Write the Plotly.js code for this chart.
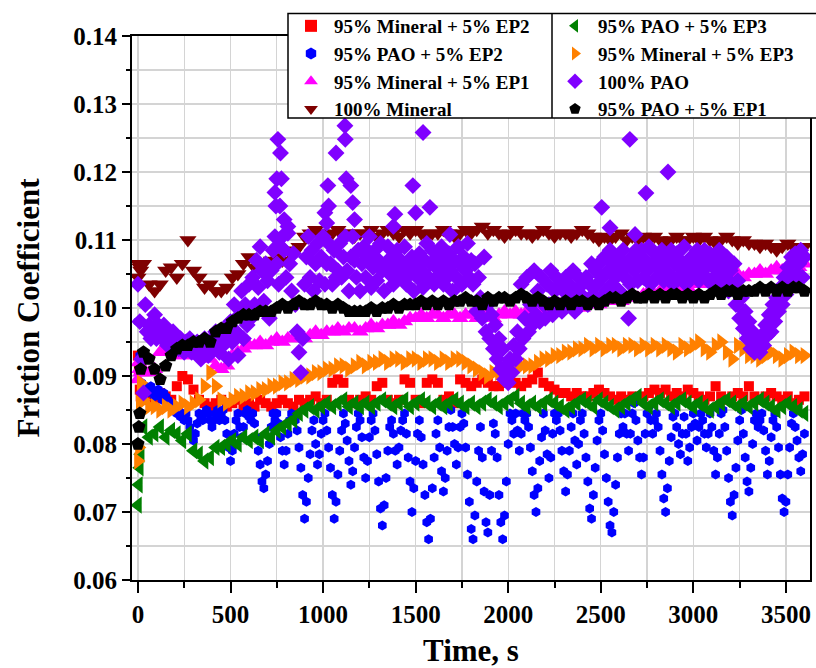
<!DOCTYPE html>
<html>
<head>
<meta charset="utf-8">
<script src="https://cdn.plot.ly/plotly-3.0.1.min.js"></script>
<style>html,body{margin:0;padding:0;background:#fff;}#chart{width:816px;height:668px;}</style>
</head>
<body>
<div id="chart"></div>
<script>
// Time axes (s)
const timeA = [0,5,10,15,
30,60,90,120,150,180,210,240,270,300,
330,360,390,420,450,480,510,540,570,600,
630,660,690,720,750,780,810,840,870,900,
930,960,990,1020,1050,1080,1110,1140,1170,1200,
1230,1260,1290,1320,1350,1380,1410,1440,1470,1500,
1530,1560,1590,1620,1650,1680,1710,1740,1770,1800,
1830,1860,1890,1920,1950,1980,2010,2040,2070,2100,
2130,2160,2190,2220,2250,2280,2310,2340,2370,2400,
2430,2460,2490,2520,2550,2580,2610,2640,2670,2700,
2730,2760,2790,2820,2850,2880,2910,2940,2970,3000,
3030,3060,3090,3120,3150,3180,3210,3240,3270,3300,
3330,3360,3390,3420,3450,3480,3510,3540,3570,3600];

const timeC = [0,
10,20,30,40,50,60,70,80,90,100,110,120,130,140,150,160,170,180,190,200,210,220,230,240,250,260,270,280,290,300,
310,320,330,340,350,360,370,380,390,400,410,420,430,440,450,460,470,480,490,500,510,520,530,540,550,560,570,580,590,600,
610,620,630,640,650,660,670,680,690,700,710,720,730,740,750,760,770,780,790,800,810,820,830,840,850,860,870,880,890,900,
910,920,930,940,950,960,970,980,990,1000,1010,1020,1030,1040,1050,1060,1070,1080,1090,1100,1110,1120,1130,1140,1150,1160,1170,1180,1190,1200,
1210,1220,1230,1240,1250,1260,1270,1280,1290,1300,1310,1320,1330,1340,1350,1360,1370,1380,1390,1400,1410,1420,1430,1440,1450,1460,1470,1480,1490,1500,
1510,1520,1530,1540,1550,1560,1570,1580,1590,1600,1610,1620,1630,1640,1650,1660,1670,1680,1690,1700,1710,1720,1730,1740,1750,1760,1770,1780,1790,1800,
1810,1820,1830,1840,1850,1860,1870,1880,1890,1900,1910,1920,1930,1940,1950,1960,1970,1980,1990,2000,2010,2020,2030,2040,2050,2060,2070,2080,2090,2100,
2110,2120,2130,2140,2150,2160,2170,2180,2190,2200,2210,2220,2230,2240,2250,2260,2270,2280,2290,2300,2310,2320,2330,2340,2350,2360,2370,2380,2390,2400,
2410,2420,2430,2440,2450,2460,2470,2480,2490,2500,2510,2520,2530,2540,2550,2560,2570,2580,2590,2600,2610,2620,2630,2640,2650,2660,2670,2680,2690,2700,
2710,2720,2730,2740,2750,2760,2770,2780,2790,2800,2810,2820,2830,2840,2850,2860,2870,2880,2890,2900,2910,2920,2930,2940,2950,2960,2970,2980,2990,3000,
3010,3020,3030,3040,3050,3060,3070,3080,3090,3100,3110,3120,3130,3140,3150,3160,3170,3180,3190,3200,3210,3220,3230,3240,3250,3260,3270,3280,3290,3300,
3310,3320,3330,3340,3350,3360,3370,3380,3390,3400,3410,3420,3430,3440,3450,3460,3470,3480,3490,3500,3510,3520,3530,3540,3550,3560,3570,3580,3590,3600];

// 95% Mineral + 5% EP2 (timeA)
const mineralEP2 = [0.093,0.091,0.088,0.087,
0.0865,0.087,0.0865,0.0875,0.087,0.0865,0.0885,0.090,0.0895,0.088,
0.0865,0.086,0.0855,0.086,0.0865,0.0855,0.086,0.0865,0.0855,0.086,
0.0855,0.0865,0.086,0.0855,0.086,0.0865,0.086,0.0855,0.0865,0.086,
0.0865,0.087,0.086,0.0865,0.089,0.0895,0.089,0.0865,0.086,0.0865,
0.087,0.0865,0.0885,0.089,0.0865,0.086,0.0865,0.0895,0.089,0.0865,
0.086,0.089,0.0895,0.089,0.0865,0.087,0.086,0.0895,0.089,0.0885,
0.089,0.0895,0.089,0.0885,0.0885,0.089,0.0895,0.089,0.0885,0.089,
0.0895,0.0905,0.089,0.0885,0.088,0.0875,0.0875,0.087,0.0875,0.087,
0.087,0.0875,0.088,0.0875,0.087,0.0865,0.087,0.0865,0.087,0.0865,
0.087,0.0875,0.088,0.0875,0.088,0.087,0.0875,0.087,0.088,0.0875,
0.087,0.0865,0.087,0.0885,0.087,0.0865,0.087,0.0875,0.087,0.0885,
0.087,0.0865,0.087,0.0875,0.087,0.0865,0.087,0.086,0.0865,0.087];

// 95% PAO + 5% EP2 (timeC)
const paoEP2 = [0.098,
0.093,0.089,0.088,0.0885,0.0875,0.088,0.0885,0.0875,0.087,0.0875,0.088,0.087,0.0865,0.0875,0.087,0.0865,0.0855,0.086,0.085,0.0855,0.0845,0.085,0.084,0.0845,0.0835,0.0845,0.0835,0.0825,0.0815,0.0805,
0.0815,0.083,0.0845,0.084,0.0835,0.0845,0.085,0.0845,0.0835,0.0825,0.0835,0.0845,0.085,0.0835,0.0845,0.085,0.0835,0.0815,0.0795,0.0775,0.079,0.0815,0.0835,0.0845,0.0825,0.081,0.0825,0.0845,0.085,0.084,
0.0835,0.0845,0.083,0.081,0.079,0.077,0.0745,0.0735,0.0755,0.0775,0.080,0.0825,0.0845,0.0835,0.0845,0.083,0.081,0.079,0.077,0.079,0.0815,0.0835,0.0845,0.084,0.0835,0.082,0.0795,0.0765,0.0725,0.069,
0.0715,0.075,0.0785,0.082,0.0835,0.080,0.077,0.0785,0.0815,0.0835,0.0845,0.082,0.0795,0.0765,0.0725,0.069,0.0715,0.0755,0.079,0.082,0.0845,0.083,0.0805,0.0775,0.074,0.076,0.0795,0.0825,0.0845,0.0835,
0.081,0.078,0.075,0.0775,0.081,0.0835,0.0845,0.082,0.0785,0.0745,0.0705,0.068,0.071,0.075,0.079,0.0825,0.0835,0.0815,0.079,0.077,0.0795,0.082,0.0835,0.0845,0.0815,0.078,0.0745,0.070,0.0735,0.0775,
0.0815,0.0835,0.081,0.077,0.0725,0.0685,0.066,0.069,0.0735,0.078,0.0815,0.0835,0.0795,0.076,0.073,0.075,0.079,0.0825,0.085,0.0825,0.080,0.077,0.0795,0.0825,0.0845,0.083,0.0795,0.0755,0.0715,0.0675,
0.066,0.0695,0.0745,0.079,0.0825,0.078,0.073,0.0685,0.067,0.0725,0.079,0.083,0.0815,0.078,0.0725,0.0685,0.066,0.0695,0.0745,0.080,0.0845,0.0835,0.0815,0.0845,0.082,0.079,0.0815,0.0845,0.0835,0.0845,
0.0825,0.0795,0.076,0.0725,0.070,0.0735,0.0775,0.081,0.0845,0.082,0.0785,0.075,0.078,0.0815,0.0845,0.0835,0.0845,0.082,0.079,0.076,0.073,0.0755,0.079,0.0825,0.0845,0.0805,0.077,0.080,0.0835,0.0845,
0.0815,0.078,0.0745,0.0705,0.069,0.0725,0.0765,0.0805,0.0835,0.0845,0.082,0.0785,0.075,0.0715,0.068,0.067,0.070,0.074,0.078,0.0815,0.0845,0.0825,0.0845,0.0815,0.079,0.0815,0.0845,0.086,0.0835,0.0805,
0.078,0.0755,0.078,0.0815,0.0845,0.0855,0.0835,0.0815,0.0835,0.0845,0.0825,0.079,0.0755,0.072,0.070,0.0735,0.0775,0.081,0.084,0.0845,0.0825,0.080,0.0785,0.0815,0.084,0.0815,0.0775,0.0795,0.0825,0.0845,
0.083,0.0805,0.0825,0.0845,0.0835,0.0815,0.0795,0.0815,0.0845,0.0825,0.079,0.0755,0.078,0.0815,0.0845,0.085,0.0825,0.079,0.075,0.0715,0.0695,0.0725,0.0765,0.0805,0.0835,0.085,0.0815,0.078,0.0745,0.073,
0.0765,0.080,0.0835,0.0845,0.0825,0.0835,0.0845,0.082,0.079,0.0755,0.0775,0.081,0.0835,0.0845,0.0825,0.0795,0.0755,0.072,0.070,0.0715,0.0755,0.0795,0.083,0.0845,0.0825,0.0805,0.078,0.076,0.0785,0.0815];

// 95% Mineral + 5% EP1 (timeA)
const mineralEP1 = [0.0895,0.092,0.091,0.0905,
0.0905,0.0905,0.091,0.0935,0.094,0.0935,0.093,0.093,0.0935,0.093,
0.0935,0.093,0.0925,0.0915,0.091,0.0915,0.093,0.0935,0.094,0.0945,
0.0945,0.095,0.0945,0.095,0.0955,0.095,0.0955,0.0955,0.096,0.0955,
0.096,0.0965,0.096,0.0965,0.0965,0.097,0.0965,0.097,0.097,0.0965,
0.097,0.0975,0.097,0.0975,0.0975,0.098,0.0975,0.098,0.0985,0.0985,
0.099,0.0985,0.099,0.099,0.0985,0.099,0.099,0.0985,0.099,0.099,
0.0985,0.099,0.099,0.0985,0.099,0.0995,0.099,0.0995,0.099,0.0995,
0.0995,0.100,0.0995,0.100,0.100,0.1005,0.100,0.1005,0.1005,0.100,
0.1005,0.101,0.1005,0.101,0.101,0.1015,0.101,0.1015,0.102,0.1015,
0.102,0.1025,0.102,0.1025,0.1025,0.103,0.1025,0.103,0.103,0.1035,
0.1035,0.104,0.1035,0.104,0.1045,0.104,0.1045,0.105,0.1045,0.105,
0.105,0.1055,0.105,0.1055,0.106,0.1055,0.106,0.1065,0.106,0.1065];

// 100% Mineral (timeA)
const mineral100 = [0.1045,0.1065,0.106,0.1055,
0.1065,0.1035,0.1025,0.1035,0.1055,0.106,0.1045,0.1065,0.110,0.1055,
0.1045,0.103,0.1035,0.1025,0.1025,0.103,0.1045,0.105,0.1065,0.1075,
0.106,0.1065,0.106,0.107,0.1075,0.107,0.1085,0.108,0.109,0.1105,
0.111,0.1115,0.111,0.1105,0.111,0.1115,0.111,0.111,0.1105,0.111,
0.111,0.1115,0.1105,0.111,0.1115,0.111,0.1105,0.1115,0.111,0.1115,
0.111,0.1105,0.111,0.111,0.1115,0.111,0.1105,0.111,0.1115,0.111,
0.1115,0.112,0.111,0.1115,0.111,0.1105,0.111,0.1115,0.111,0.111,
0.1105,0.111,0.1115,0.111,0.1105,0.111,0.111,0.1105,0.111,0.1115,
0.111,0.1105,0.110,0.1105,0.110,0.1105,0.111,0.110,0.1105,0.110,
0.1105,0.110,0.1105,0.110,0.1095,0.110,0.1105,0.110,0.110,0.1105,
0.110,0.1105,0.110,0.1095,0.110,0.1105,0.110,0.1095,0.110,0.1095,
0.1095,0.109,0.1095,0.109,0.1085,0.109,0.1095,0.109,0.1085,0.109];

// 95% PAO + 5% EP3 (timeA)
const paoEP3 = [0.071,0.074,0.0765,0.0785,
0.0825,0.081,0.0815,0.0825,0.081,0.082,0.0815,0.0805,0.0815,0.079,
0.0785,0.0775,0.078,0.0795,0.0795,0.080,0.0805,0.080,0.081,0.0805,
0.081,0.0805,0.0815,0.081,0.082,0.0825,0.083,0.0835,0.0845,0.085,
0.0855,0.085,0.0855,0.086,0.0855,0.086,0.0865,0.0855,0.086,0.0855,
0.086,0.0855,0.086,0.0865,0.086,0.0855,0.086,0.0865,0.0855,0.086,
0.0865,0.086,0.0855,0.086,0.0855,0.086,0.0865,0.086,0.0855,0.086,
0.0855,0.086,0.0865,0.086,0.0855,0.086,0.0865,0.087,0.086,0.0855,
0.086,0.0855,0.086,0.0865,0.086,0.0855,0.085,0.0855,0.086,0.0865,
0.086,0.0855,0.0865,0.086,0.0855,0.085,0.0855,0.086,0.0865,0.087,
0.086,0.0855,0.086,0.0865,0.086,0.0855,0.086,0.0865,0.086,0.0855,
0.086,0.0855,0.085,0.0855,0.086,0.0865,0.086,0.0855,0.086,0.0855,
0.086,0.0865,0.086,0.0855,0.085,0.0855,0.086,0.0855,0.085,0.0845];

// 95% Mineral + 5% EP3 (timeA)
const mineralEP3 = [0.0775,0.0795,0.086,0.089,
0.0865,0.0855,0.0855,0.085,0.0855,0.085,0.0855,0.086,0.0855,0.086,
0.0865,0.0885,0.0905,0.0885,0.0865,0.086,0.0865,0.087,0.087,0.0875,
0.0875,0.088,0.088,0.0885,0.0885,0.089,0.089,0.0895,0.0895,0.090,
0.090,0.0905,0.0905,0.091,0.091,0.0915,0.0915,0.091,0.0915,0.092,
0.0915,0.092,0.092,0.0925,0.092,0.0925,0.0925,0.092,0.0925,0.0925,
0.092,0.0925,0.0925,0.092,0.0925,0.092,0.0925,0.0925,0.092,0.0915,
0.091,0.0905,0.090,0.0905,0.0905,0.0905,0.091,0.091,0.0915,0.0915,
0.0915,0.092,0.0925,0.0925,0.093,0.093,0.0935,0.0935,0.094,0.094,
0.0945,0.094,0.0945,0.094,0.0945,0.0945,0.094,0.0945,0.0945,0.094,
0.0945,0.094,0.0945,0.094,0.0945,0.094,0.0935,0.0945,0.094,0.0945,
0.095,0.094,0.0935,0.0945,0.095,0.0935,0.0925,0.0945,0.094,0.093,
0.093,0.0925,0.093,0.0935,0.093,0.0925,0.093,0.0935,0.093,0.093];

// 100% PAO (timeC) plus scattered outliers
const pao100 = [0.1035,
0.098,0.0925,0.0875,0.1005,0.0965,0.0975,0.0955,0.0965,0.099,0.0955,0.0975,0.0965,0.0955,0.0975,0.096,0.0945,0.0965,0.095,0.0965,0.0945,0.0955,0.094,0.0955,0.0945,0.0935,0.095,0.094,0.0955,0.0935,0.0945,
0.0935,0.095,0.094,0.0925,0.0945,0.0955,0.094,0.093,0.0945,0.0955,0.094,0.0965,0.095,0.0935,0.096,0.0945,0.097,0.0955,0.0925,0.098,0.095,0.1005,0.0965,0.093,0.099,0.1025,0.0955,0.1005,0.0975,0.1035,
0.0985,0.1045,0.1005,0.107,0.103,0.109,0.1055,0.101,0.1065,0.104,0.0985,0.1055,0.1085,0.1105,0.1065,0.1035,0.109,0.1105,0.1085,0.1045,0.111,0.1065,0.1025,0.108,0.1005,0.0965,0.0935,0.0905,0.0955,0.1035,
0.1075,0.1105,0.1045,0.1085,0.1025,0.1065,0.1095,0.104,0.1075,0.1105,0.1035,0.1065,0.1095,0.1065,0.1035,0.1085,0.1045,0.1055,0.1095,0.1045,0.1075,0.1105,0.1055,0.1025,0.1075,0.1105,0.107,0.1045,0.1085,0.1025,
0.1065,0.109,0.1045,0.1075,0.1105,0.103,0.106,0.1085,0.104,0.107,0.1095,0.1055,0.1025,0.1065,0.109,0.105,0.1075,0.1035,0.106,0.1085,0.1045,0.107,0.1055,0.109,0.1035,0.1065,0.105,0.1075,0.1025,0.106,
0.1045,0.108,0.1055,0.103,0.107,0.1095,0.1045,0.1065,0.1085,0.1035,0.106,0.1075,0.105,0.109,0.1035,0.1065,0.1045,0.108,0.1055,0.1025,0.107,0.1045,0.109,0.1065,0.1035,0.1075,0.1055,0.1095,0.1045,0.107,
0.1035,0.1065,0.0995,0.1045,0.1015,0.0985,0.1075,0.0965,0.1005,0.0955,0.099,0.094,0.0975,0.0925,0.0955,0.091,0.094,0.0895,0.0915,0.089,0.0925,0.0905,0.0945,0.0925,0.0965,0.094,0.1035,0.0955,0.0985,0.1045,
0.0965,0.1005,0.0975,0.1055,0.099,0.1025,0.098,0.1045,0.1005,0.0985,0.1035,0.1005,0.1055,0.099,0.1025,0.1045,0.1005,0.1035,0.0995,0.1025,0.1045,0.1005,0.1035,0.1015,0.1055,0.0995,0.1025,0.1045,0.1005,0.1035,
0.1015,0.1045,0.1005,0.1035,0.1065,0.102,0.1055,0.1035,0.1065,0.1015,0.1045,0.1075,0.1025,0.1055,0.1085,0.1035,0.1065,0.1045,0.1075,0.1025,0.1055,0.1085,0.1045,0.1065,0.0985,0.1035,0.1075,0.1055,0.1085,0.104,
0.1065,0.1085,0.1045,0.107,0.1055,0.109,0.1035,0.1065,0.108,0.1045,0.107,0.1055,0.1085,0.104,0.1065,0.1075,0.105,0.1085,0.1035,0.1065,0.108,0.1045,0.107,0.1055,0.109,0.1035,0.1065,0.1045,0.1075,0.105,
0.1065,0.1085,0.104,0.107,0.1055,0.1085,0.1045,0.1065,0.108,0.1035,0.106,0.1075,0.105,0.1085,0.104,0.1065,0.1045,0.1075,0.1025,0.1055,0.1035,0.1065,0.1005,0.104,0.0985,0.1015,0.097,0.0995,0.0955,0.098,
0.094,0.0965,0.0935,0.0955,0.0945,0.0935,0.096,0.0945,0.0975,0.096,0.099,0.0965,0.1005,0.098,0.1015,0.0995,0.103,0.1005,0.1045,0.102,0.106,0.1035,0.1075,0.1045,0.108,0.105,0.1065,0.1085,0.1045,0.1075];
const paoOutlierTime = [740,745,750,756,767,770,775,790,810,1010,1020,1026,1030,1070,1118,1120,1125,1150,1160,1170,1380,1388,1485,1500,1540,1577,1685,2505,2550,2657,2685,2744,2863];
const paoOutlierValue = [0.117,0.115,0.119,0.1248,0.115,0.1228,0.119,0.113,0.112,0.114,0.1125,0.118,0.115,0.1228,0.1268,0.1248,0.119,0.118,0.1155,0.113,0.112,0.1138,0.118,0.114,0.1258,0.1148,0.1108,0.1148,0.1118,0.1248,0.1108,0.1169,0.120];

// 95% PAO + 5% EP1 (timeA)
const paoEP1 = [0.080,0.0825,0.0845,0.091,
0.0935,0.0925,0.091,0.0895,0.0915,0.093,0.094,0.0945,0.0945,0.095,
0.095,0.0955,0.095,0.0965,0.097,0.097,0.098,0.0985,0.099,0.099,
0.099,0.0995,0.0995,0.0995,0.100,0.1005,0.100,0.1005,0.101,0.1005,
0.1005,0.101,0.1005,0.1005,0.100,0.1005,0.100,0.0995,0.0995,0.0995,
0.0995,0.100,0.0995,0.100,0.100,0.1005,0.100,0.1005,0.1005,0.1005,
0.101,0.1005,0.101,0.1005,0.101,0.1005,0.101,0.101,0.1015,0.101,
0.101,0.1005,0.1015,0.101,0.1015,0.1015,0.101,0.1015,0.102,0.1015,
0.101,0.1015,0.101,0.1005,0.101,0.1005,0.101,0.1005,0.101,0.101,
0.1005,0.101,0.1005,0.101,0.1015,0.1015,0.101,0.1015,0.102,0.1015,
0.1015,0.102,0.1015,0.102,0.1015,0.102,0.102,0.1015,0.102,0.1015,
0.102,0.1015,0.102,0.1025,0.102,0.1025,0.1025,0.102,0.1025,0.1025,
0.1025,0.103,0.1025,0.103,0.1025,0.103,0.1025,0.103,0.103,0.1025];

const seriesNames = ['95% Mineral + 5% EP2','95% PAO + 5% EP2','95% Mineral + 5% EP1','100% Mineral',
  '95% PAO + 5% EP3','95% Mineral + 5% EP3','100% PAO','95% PAO + 5% EP1'];
const xTicks = [0,500,1000,1500,2000,2500,3000,3500];
const yTicks = [0.06,0.07,0.08,0.09,0.10,0.11,0.12,0.13,0.14];

const F = 'Liberation Serif, Times New Roman, serif';
function tr(name, x, y, color, symbol, size, legend){
  return {type:'scatter', mode:'markers', name:name, x:x, y:y, legend:legend,
    marker:{color:color, symbol:symbol, size:size, line:{width:0}}, hoverinfo:'skip'};
}
const data = [
  tr(seriesNames[0], timeA, mineralEP2, '#FF0000', 'square', 10, 'legend'),
  tr(seriesNames[1], timeC, paoEP2, '#0000FF', 'hexagon', 10, 'legend'),
  tr(seriesNames[2], timeA, mineralEP1, '#FF00FF', 'triangle-up', 15, 'legend'),
  tr(seriesNames[3], timeA, mineral100, '#7F0000', 'triangle-down', 15, 'legend'),
  tr(seriesNames[4], timeA, paoEP3, '#008000', 'triangle-left', 15, 'legend2'),
  tr(seriesNames[5], timeA, mineralEP3, '#FF8000', 'triangle-right', 15, 'legend2'),
  tr(seriesNames[6], timeC.concat(paoOutlierTime), pao100.concat(paoOutlierValue), '#8000FF', 'diamond', 13, 'legend2'),
  tr(seriesNames[7], timeA, paoEP1, '#000000', 'pentagon', 14, 'legend2')
];

const W=816, H=668, L=132, R=6, T=36, B=88;
const pw = W-L-R, ph = H-T-B;
const px = p => (p-L)/pw;
const py = p => (H-B-p)/ph;

const legendCommon = {bgcolor:'rgba(0,0,0,0)', borderwidth:0, xanchor:'left', yanchor:'top',
  font:{family:F, size:19, color:'#000', weight:'bold'}, tracegroupgap:0, itemsizing:'constant', itemwidth:36};

const layout = {
  width:W, height:H,
  margin:{l:L, r:R, t:T, b:B, autoexpand:false},
  paper_bgcolor:'#fff', plot_bgcolor:'#fff',
  showlegend:true,
  xaxis:{range:[-32,3630], tickvals:xTicks, ticktext:xTicks.map(String), ticks:'outside', ticklen:11, tickwidth:2, tickcolor:'#000',
    showline:true, linewidth:2, linecolor:'#000', mirror:true, zeroline:false,
    showgrid:true, gridcolor:'#d4d4d4', gridwidth:1.3,
    minor:{dtick:250, tick0:0, ticks:'outside', ticklen:6, tickwidth:2, tickcolor:'#000', showgrid:true, gridcolor:'#d4d4d4', gridwidth:1.3},
    tickfont:{family:F, size:25, color:'#000', weight:'bold'},
    title:{text:'Time, s', font:{family:F, size:31, color:'#000', weight:'bold'}, standoff:22}},
  yaxis:{range:[0.06,0.14], tickvals:yTicks, tickformat:'.2f', ticks:'outside', ticklen:8, tickwidth:2, tickcolor:'#000',
    showline:true, linewidth:2, linecolor:'#000', mirror:true, zeroline:false,
    showgrid:true, gridcolor:'#d4d4d4', gridwidth:1.3,
    minor:{dtick:0.005, tick0:0.06, ticks:'outside', ticklen:4, tickwidth:2, tickcolor:'#000', showgrid:true, gridcolor:'#d4d4d4', gridwidth:1.3},
    tickfont:{family:F, size:25, color:'#000', weight:'bold'},
    title:{text:'Friction Coefficient', font:{family:F, size:31, color:'#000', weight:'bold'}, standoff:24}},
  legend:Object.assign({x:px(288), y:py(7)}, legendCommon),
  legend2:Object.assign({x:px(552), y:py(7)}, legendCommon),
  shapes:[
    {type:'rect', xref:'paper', yref:'paper', x0:px(288), x1:px(840), y0:py(118), y1:py(13.5),
      fillcolor:'#fff', line:{color:'#000', width:1.5}, layer:'above'},
    {type:'line', xref:'paper', yref:'paper', x0:px(552), x1:px(552), y0:py(118), y1:py(13.5),
      line:{color:'#000', width:1.5}, layer:'above'}
  ]
};

Plotly.newPlot('chart', data, layout, {staticPlot:true, displayModeBar:false});
</script>
</body>
</html>
